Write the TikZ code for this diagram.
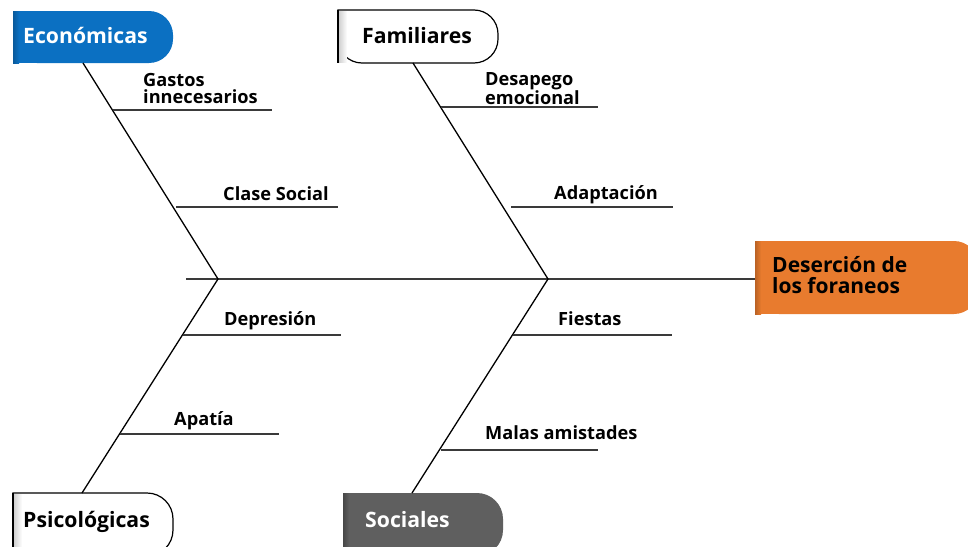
\documentclass[tikz,border=0pt]{standalone}
\usepackage{fontspec}
\setmainfont{Open Sans}
\definecolor{ecoblue}{HTML}{0B70C2}
\definecolor{desorange}{HTML}{E87B2E}
\definecolor{socgray}{HTML}{5F5F5F}
\definecolor{linegray}{HTML}{3A3A3A}
\begin{document}
\begin{tikzpicture}[x=1pt,y=-1pt,
  bone/.style={draw=black,line width=1.3pt},
  spine/.style={draw=linegray,line width=1.6pt},
  sub/.style={draw=linegray,line width=1.6pt},
  lbl/.style={inner sep=0pt,anchor=base west,font=\fontsize{18.2}{17}\selectfont\bfseries,text=black},
  lbltwo/.style={inner sep=0pt,anchor=west,align=left,font=\fontsize{18.2}{16.5}\selectfont\bfseries,text=black},
  boxlbl/.style={inner sep=0pt,anchor=base west,font=\fontsize{21.2}{22}\selectfont\bfseries},
]
\useasboundingbox (0,0) rectangle (968,546);
\fill[white] (0,0) rectangle (968,546);

% boxes
\fill[ecoblue,rounded corners=24pt] (13,11) -- (173,11) -- (173,63) -- (13,63) [sharp corners] -- cycle;
\fill[ecoblue] (13,11) rectangle (60,63);
\shade[left color=black!20!ecoblue,right color=ecoblue] (13,11) rectangle (19,63);

\draw[line width=1.2pt,fill=white,rounded corners=24pt] (338,10) -- (498,10) -- (498,63) -- (338,63) [sharp corners] -- cycle;
\shade[left color=black!18,right color=white] (339,11) rectangle (347,62);
\draw[line width=1.2pt] (338,10) -- (338,63);

\fill[desorange,rounded corners=24pt] (755,241) -- (978,241) -- (978,314) -- (755,314) [sharp corners] -- cycle;
\fill[desorange] (755,241) rectangle (800,314);
\shade[left color=black!20!desorange,right color=desorange] (755,241) rectangle (761,314);

\draw[line width=1.2pt,fill=white,rounded corners=26pt] (13,493) -- (173,493) -- (173,556) -- (13,556) [sharp corners] -- cycle;
\shade[left color=black!18,right color=white] (14,494) rectangle (22,556);
\draw[line width=1.2pt] (13,493) -- (13,556);

\fill[socgray,rounded corners=26pt] (343,493) -- (503,493) -- (503,556) -- (343,556) [sharp corners] -- cycle;
\fill[socgray] (343,493) rectangle (390,556);
\shade[left color=black!25!socgray,right color=socgray] (343,493) rectangle (349,556);

% box labels
\node[boxlbl,text=white] (eco) at (23,43) {Económicas};
\node[boxlbl,text=black] (fam) at (362,43) {Familiares};
\node[boxlbl,text=black] (psi) at (23,527) {Psicológicas};
\node[boxlbl,text=white] (soc) at (365,527) {Sociales};
\node[inner sep=0pt,anchor=west,align=left,text=black,font=\fontsize{21}{21}\selectfont\bfseries] (des) at (772,275) {Deserción de\\los foraneos};

% anchor coordinates
\coordinate (ecoB) at (83,63);
\coordinate (famB) at (413,63);
\coordinate (psiT) at (82,493);
\coordinate (socT) at (412,493);
\coordinate (desL) at (755,279);
\coordinate (spL) at (186,279);
\coordinate (j1) at (218,279);
\coordinate (j2) at (548,279);

% spine and bones
\draw[spine] (spL) -- (desL);
\draw[bone] (ecoB) -- (j1) -- (psiT);
\draw[bone] (famB) -- (j2) -- (socT);

% sub bones
\coordinate (g1) at (113,110); \coordinate (g2) at (272,110);
\coordinate (c1) at (176,207); \coordinate (c2) at (338,207);
\coordinate (d1) at (183,335); \coordinate (d2) at (341,335);
\coordinate (a1) at (120,434); \coordinate (a2) at (279,434);
\coordinate (e1) at (441,107); \coordinate (e2) at (598,107);
\coordinate (ad1) at (511,207); \coordinate (ad2) at (673,207);
\coordinate (f1) at (513,335); \coordinate (f2) at (672,335);
\coordinate (m1) at (441,450); \coordinate (m2) at (598,450);
\draw[sub] (g1) -- (g2);
\draw[sub] (c1) -- (c2);
\draw[sub] (d1) -- (d2);
\draw[sub] (a1) -- (a2);
\draw[sub] (e1) -- (e2);
\draw[sub] (ad1) -- (ad2);
\draw[sub] (f1) -- (f2);
\draw[sub] (m1) -- (m2);

% labels
\node[lbltwo] (gas) at (143,88.5) {Gastos\\innecesarios};
\node[lbltwo] (dese) at (485,88.5) {Desapego\\emocional};
\node[lbl] (cla) at (223,200) {Clase Social};
\node[lbl] (ada) at (554,199) {Adaptación};
\node[lbl] (dep) at (224,325) {Depresión};
\node[lbl] (fie) at (558,325) {Fiestas};
\node[lbl] (apa) at (174,425) {Apatía};
\node[lbl] (mal) at (485,439) {Malas amistades};
\end{tikzpicture}
\end{document}
